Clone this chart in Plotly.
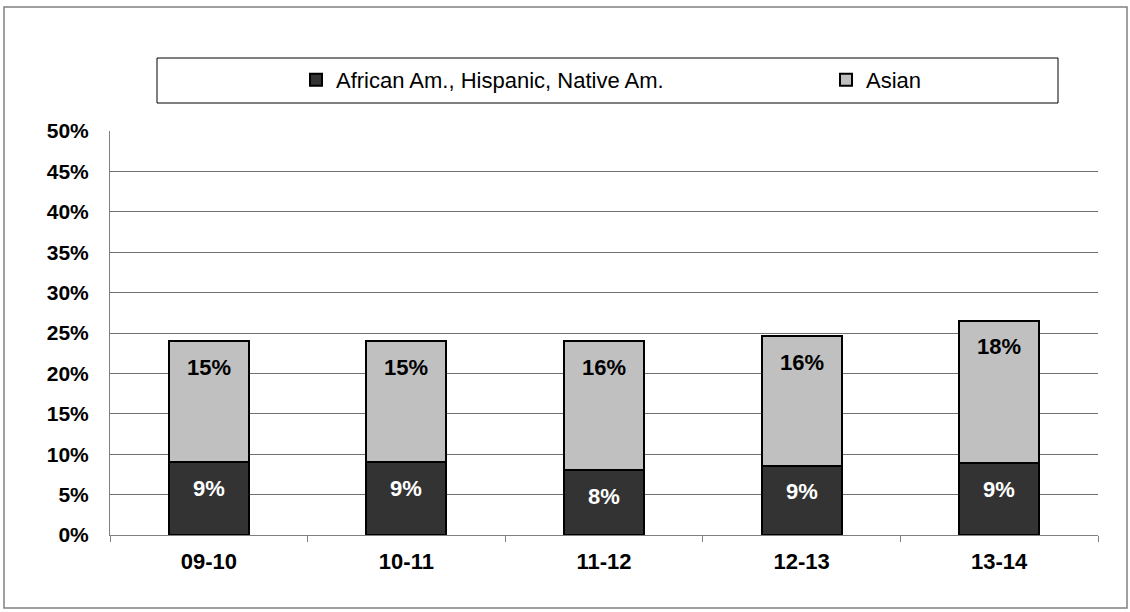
import plotly.graph_objects as go

categories = ["09-10", "10-11", "11-12", "12-13", "13-14"]
series_names = ["African Am., Hispanic, Native Am.", "Asian"]
afr_his_nat = [9.0, 9.0, 8.0, 8.6, 8.9]
asian = [15.0, 15.0, 16.0, 16.0, 17.6]
y_ticks = list(range(0, 55, 5))
y_tick_labels = [f"{v}%" for v in y_ticks]

FONT = "Liberation Sans, Arial, sans-serif"
DARK = "#333333"
LIGHT = "#C0C0C0"

fig = go.Figure()
fig.add_trace(go.Bar(
    x=categories, y=afr_his_nat, name=series_names[0], legend="legend",
    marker=dict(color=DARK, line=dict(color="black", width=2)),
))
fig.add_trace(go.Bar(
    x=categories, y=asian, name=series_names[1], legend="legend2",
    marker=dict(color=LIGHT, line=dict(color="black", width=2)),
))

annotations = []
for i, c in enumerate(categories):
    top1 = afr_his_nat[i]
    top2 = afr_his_nat[i] + asian[i]
    annotations.append(dict(x=c, y=top1, xref="x", yref="y", text=f"{round(afr_his_nat[i]):.0f}%",
                            showarrow=False, yshift=-26, yanchor="middle",
                            font=dict(family=FONT, size=22, color="white", weight="bold")))
    annotations.append(dict(x=c, y=top2, xref="x", yref="y", text=f"{round(asian[i]):.0f}%",
                            showarrow=False, yshift=-26, yanchor="middle",
                            font=dict(family=FONT, size=22, color="black", weight="bold")))

L, R, T, B = 110, 1098, 131, 535
W, H = R - L, B - T
def px(xp):
    return (xp - L) / W
def py(yp):
    return (B - yp) / H

shapes = [
    # outer chart border
    dict(type="rect", xref="paper", yref="paper", x0=px(4), x1=px(1127), y0=py(608), y1=py(7),
         line=dict(color="#808080", width=1.5), fillcolor="rgba(0,0,0,0)", layer="below"),
    # legend box
    dict(type="rect", xref="paper", yref="paper", x0=px(157), x1=px(1058), y0=py(103), y1=py(58),
         line=dict(color="black", width=1), fillcolor="rgba(0,0,0,0)", layer="below"),
]

legend_common = dict(orientation="h", yanchor="middle", y=py(80), xanchor="left",
                     font=dict(family=FONT, size=22, color="black"),
                     bgcolor="rgba(0,0,0,0)", borderwidth=0)

fig.update_layout(
    width=1130, height=612,
    margin=dict(l=L, r=1130 - R, t=T, b=612 - B),
    paper_bgcolor="white", plot_bgcolor="white",
    barmode="stack", bargap=0.595,
    font=dict(family=FONT, color="black"),
    showlegend=True,
    legend=dict(x=px(296), **legend_common),
    legend2=dict(x=px(826), **legend_common),
    annotations=annotations,
    shapes=shapes,
)
fig.update_xaxes(
    type="category", tickson="boundaries", ticks="outside", ticklen=6, tickcolor="#808080",
    showline=True, linecolor="#808080", linewidth=1, showgrid=False,
    tickfont=dict(family=FONT, size=22, color="black", weight="bold"),
    ticklabelstandoff=7,
)
fig.update_yaxes(
    range=[0, 50], tickvals=y_ticks, ticktext=y_tick_labels,
    showgrid=True, gridcolor="#707070", gridwidth=1,
    showline=True, linecolor="#808080", linewidth=1, ticks="",
    zeroline=False,
    tickfont=dict(family=FONT, size=21, color="black", weight="bold"),
    ticklabelstandoff=16,
)

fig.write_html("out.html", config={"displayModeBar": False},
               post_script="document.body.style.margin='0';")
